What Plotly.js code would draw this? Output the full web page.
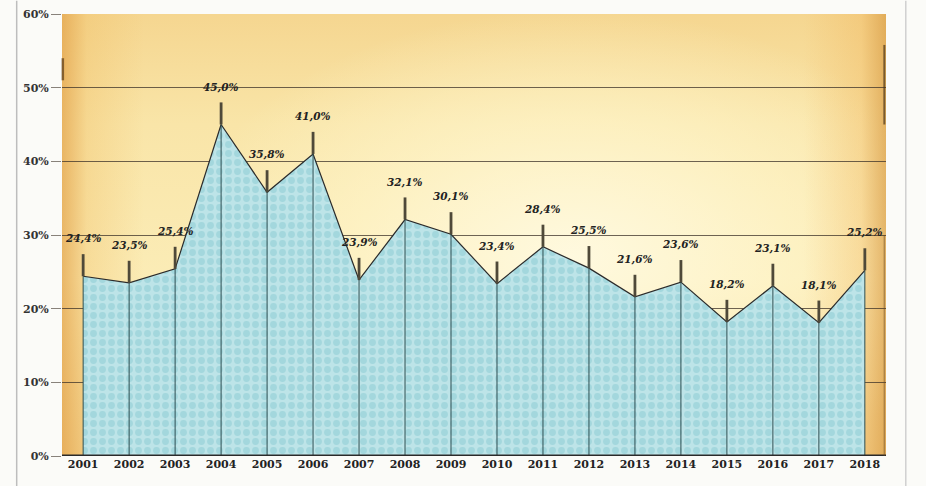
<!DOCTYPE html>
<html>
<head>
<meta charset="utf-8">
<script src="https://cdn.plot.ly/plotly-3.0.1.min.js"></script>
<style>
  html, body { margin:0; padding:0; background:#fbfbf8; }
  #wrap { position:relative; width:926px; height:486px; overflow:hidden; }
  #bg { position:absolute; left:62px; top:14px; width:824px; height:442px;
        background:
          radial-gradient(ellipse 60% 70% at 62% 55%, rgba(255,250,225,0.95) 0%, rgba(255,246,205,0.6) 45%, rgba(255,240,190,0) 80%),
          linear-gradient(180deg, #f5d690 0%, #f9e5a8 25%, #fbecb6 60%, #f3d290 100%);
  }
  #bg2 { position:absolute; left:62px; top:14px; width:824px; height:442px;
        background:
          linear-gradient(90deg, rgba(226,160,70,0.7) 0%, rgba(240,190,100,0.35) 3%, rgba(255,240,200,0) 10%, rgba(255,240,200,0) 90%, rgba(240,180,90,0.35) 97%, rgba(215,150,60,0.65) 100%);
  }
  #chart { position:absolute; left:0; top:0; width:926px; height:486px; }
</style>
</head>
<body>
<div id="wrap">
  <div id="bg"></div>
  <div id="bg2"></div>
  <div id="chart"></div>
</div>
<script>
const years = ['2001','2002','2003','2004','2005','2006','2007','2008','2009','2010','2011','2012','2013','2014','2015','2016','2017','2018'];
const values = [24.4, 23.5, 25.4, 45.0, 35.8, 41.0, 23.9, 32.1, 30.1, 23.4, 28.4, 25.5, 21.6, 23.6, 18.2, 23.1, 18.1, 25.2];
const yTicks = [0, 10, 20, 30, 40, 50, 60];

const stemUp = values.map(() => 3);
const zeros = values.map(() => 0);

const area = {
  x: years, y: values, type: 'scatter', mode: 'lines',
  fill: 'tozeroy',
  fillcolor: '#bce3e7',
  fillpattern: { shape: '.', fgcolor: '#a3d7dd', bgcolor: '#bde4e8', size: 9, solidity: 0.45 },
  line: { color: '#2b2b2b', width: 1.2 },
  hoverinfo: 'skip', showlegend: false
};
const drops = {
  x: years, y: values, type: 'scatter', mode: 'markers',
  marker: { size: 1, color: 'rgba(0,0,0,0)' },
  error_y: { type: 'data', symmetric: false, array: zeros, arrayminus: values, color: '#2f4f52', thickness: 1, width: 0 },
  hoverinfo: 'skip', showlegend: false
};
const stems = {
  x: years, y: values, type: 'scatter', mode: 'markers',
  marker: { size: 1, color: 'rgba(0,0,0,0)' },
  error_y: { type: 'data', symmetric: false, array: stemUp, arrayminus: zeros, color: '#4f4939', thickness: 2.8, width: 0 },
  hoverinfo: 'skip', showlegend: false
};

const annotations = years.map((yr, i) => ({
  x: i, y: values[i], xref: 'x', yref: 'y',
  text: values[i].toFixed(1).replace('.', ',') + '%',
  showarrow: false, yshift: 38,
  font: { family: 'DejaVu Serif', size: 10.5, color: '#222', style: 'italic', weight: 'bold' }
}));

const layout = {
  width: 926, height: 486,
  margin: { l: 62, r: 40, t: 14, b: 30 },
  paper_bgcolor: 'rgba(0,0,0,0)',
  plot_bgcolor: 'rgba(0,0,0,0)',
  xaxis: {
    type: 'category', range: [-0.46, 17.46],
    showgrid: false, zeroline: false,
    showline: false, ticks: '',
    tickfont: { family: 'DejaVu Serif', size: 11, color: '#222', weight: 'bold' },
    fixedrange: true
  },
  yaxis: {
    range: [0, 60], tickvals: yTicks, ticktext: yTicks.map(t => t + '%'),
    showgrid: true, gridcolor: 'rgba(60,50,40,0.75)', gridwidth: 1,
    zeroline: false, showline: false,
    ticks: 'outside', ticklen: 10, tickcolor: 'rgba(60,50,40,0.6)', tickwidth: 1,
    tickfont: { family: 'DejaVu Serif', size: 11, color: '#333', weight: 'bold' },
    fixedrange: true
  },
  shapes: [
    { type: 'line', xref: 'paper', yref: 'y', x0: 0, x1: 1, y0: 0, y1: 0, line: { color: '#2a2a2a', width: 3 } },
    { type: 'line', xref: 'paper', yref: 'paper', x0: -0.055, x1: -0.055, y0: -0.07, y1: 1.03, line: { color: '#bdbdbd', width: 1.5 } },
    { type: 'line', xref: 'paper', yref: 'paper', x0: 1.024, x1: 1.024, y0: -0.07, y1: 1.03, line: { color: '#d0d0d0', width: 1.5 } },
    { type: 'line', xref: 'paper', yref: 'paper', x0: 0.001, x1: 0.001, y0: 0.85, y1: 0.9, line: { color: 'rgba(90,58,24,0.7)', width: 2.5 } },
    { type: 'line', xref: 'paper', yref: 'paper', x0: 0.998, x1: 0.998, y0: 0.75, y1: 0.93, line: { color: 'rgba(74,52,24,0.7)', width: 2 } },
    { type: 'line', xref: 'paper', yref: 'paper', x0: 0.998, x1: 0.998, y0: 0.0, y1: 0.5, line: { color: 'rgba(106,74,32,0.45)', width: 1.5 } }
  ],
  annotations: annotations,
  showlegend: false
};

Plotly.newPlot('chart', [area, drops, stems], layout, { displayModeBar: false, staticPlot: true });
</script>
</body>
</html>
